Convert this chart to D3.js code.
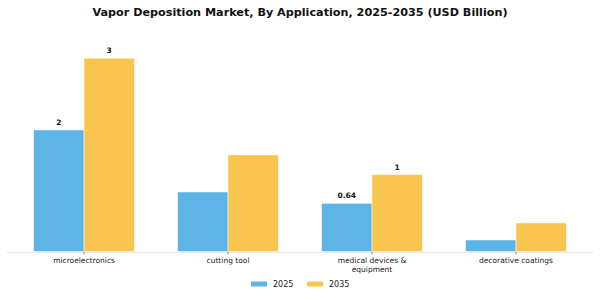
<!DOCTYPE html>
<html>
<head>
<meta charset="utf-8">
<script src="https://cdn.jsdelivr.net/npm/d3@7"></script>
<style>
  html, body { margin: 0; padding: 0; background: #fff; }
  svg { display: block; font-family: "DejaVu Sans", sans-serif; }
</style>
</head>
<body>
<svg id="chart" width="600" height="300"></svg>
<script>
const categories = ["microelectronics", "cutting tool", "medical devices & equipment", "decorative coatings"];
const categoryLines = [["microelectronics"], ["cutting tool"], ["medical devices &", "equipment"], ["decorative coatings"]];
const seriesNames = ["2025", "2035"];
const values2025 = [1.61, 0.79, 0.64, 0.155];
const values2035 = [2.56, 1.28, 1.02, 0.38];
const labels2025 = ["2", null, "0.64", null];
const labels2035 = ["3", null, "1", null];
const colors = ["#5DB4E7", "#F9C54E"];
const title = "Vapor Deposition Market, By Application, 2025-2035 (USD Billion)";

const svg = d3.select("#chart");
const W = 600;

const x = d3.scaleLinear().domain([-0.535, 3.535]).range([7, 593]);
const barW = 0.35;
const baseY = 251.7;
const y = d3.scaleLinear().domain([0, 2.688]).range([baseY, baseY - 2.688 * 75.6]);

svg.append("text")
  .attr("x", W / 2).attr("y", 16)
  .attr("text-anchor", "middle")
  .attr("font-weight", "bold")
  .attr("font-size", 11.2)
  .attr("fill", "#111")
  .text(title);

const series = [values2025, values2035];
const labels = [labels2025, labels2035];
series.forEach((vals, s) => {
  const off = s === 0 ? -barW : 0;
  const data = vals.map((v, i) => ({ v, i, label: labels[s][i] }));
  svg.append("g").selectAll("rect").data(data).join("rect")
    .attr("x", d => x(d.i + off))
    .attr("width", x(barW) - x(0))
    .attr("y", d => y(d.v))
    .attr("height", d => y(0) - y(d.v))
    .attr("fill", colors[s])
    .attr("stroke", "#fff")
    .attr("stroke-width", 0.5);
  svg.append("g").selectAll("text").data(data.filter(d => d.label !== null)).join("text")
    .attr("x", d => x(d.i + off + barW / 2))
    .attr("y", d => y(d.v) - 5)
    .attr("text-anchor", "middle")
    .attr("font-size", 7.5)
    .attr("font-weight", "bold")
    .attr("fill", "#111")
    .text(d => d.label);
});

svg.append("line")
  .attr("x1", x(-0.535)).attr("x2", x(3.535))
  .attr("y1", baseY + 0.5).attr("y2", baseY + 0.5)
  .attr("stroke", "#e6e6e6").attr("stroke-width", 1);

const tg = svg.append("g").selectAll("g").data(categories).join("g")
  .attr("transform", (d, i) => `translate(${x(i)},${baseY})`);
tg.append("line").attr("y1", 0).attr("y2", 3).attr("stroke", "#555").attr("stroke-width", 0.6);
tg.append("text")
  .attr("text-anchor", "middle")
  .attr("font-size", 7.5)
  .attr("fill", "#222")
  .selectAll("tspan").data((d, i) => categoryLines[i]).join("tspan")
  .attr("x", 0)
  .attr("y", (d, j) => 11.5 + j * 8.5)
  .text(d => d);

const lg = svg.append("g");
const legendX = [251, 307];
seriesNames.forEach((n, s) => {
  lg.append("rect").attr("x", legendX[s]).attr("y", 281.5).attr("width", 16).attr("height", 5).attr("fill", colors[s]);
  lg.append("text").attr("x", legendX[s] + 22).attr("y", 287).attr("font-size", 8).attr("fill", "#222").text(n);
});
</script>
</body>
</html>
